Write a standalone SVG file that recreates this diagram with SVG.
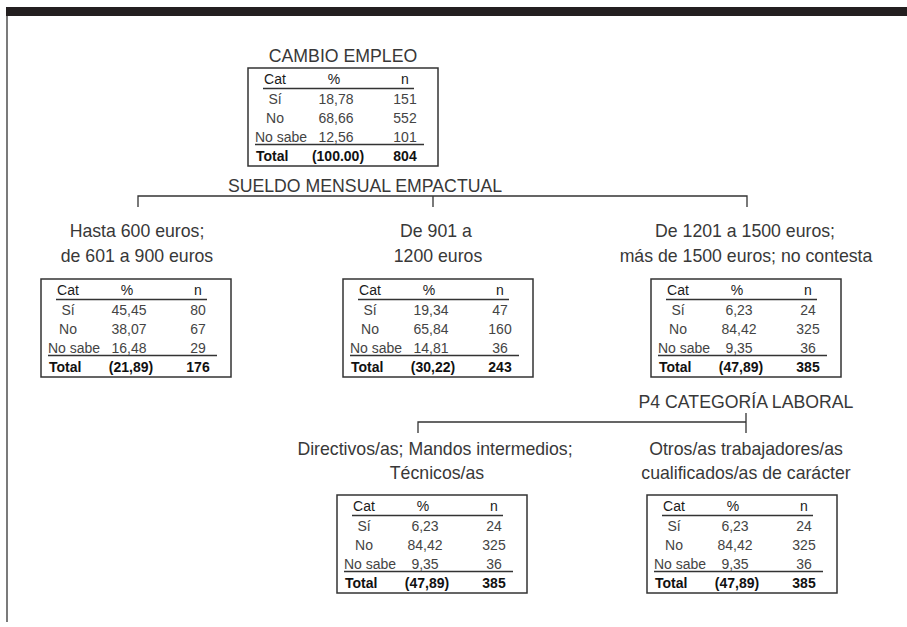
<svg xmlns="http://www.w3.org/2000/svg" width="907" height="627" viewBox="0 0 907 627">
<style>
.lbl{font-family:"Liberation Sans",Arial,sans-serif;font-size:17.7px;fill:#383838;text-anchor:middle}
.t{font-family:"Liberation Sans",Arial,sans-serif;font-size:14px;fill:#444;text-anchor:middle}
.h{fill:#1a1a1a}
.b{font-weight:bold;fill:#111}
.s{text-anchor:start}
.box{fill:#fff;stroke:#333;stroke-width:1.5}
.rl{stroke:#333;stroke-width:1.3;fill:none}
.con{stroke:#333;stroke-width:1.3;fill:none}
</style>
<defs>
<g id="grid">
<rect class="box" x="0" y="0" width="190" height="98"/>
<line class="rl" x1="15" y1="20.5" x2="166" y2="20.5"/>
<line class="rl" x1="7" y1="76.5" x2="176" y2="76.5"/>
</g>
</defs>
<rect x="6" y="7" width="901" height="9" fill="#231f20"/>
<line x1="7" y1="16" x2="7" y2="622" stroke="#333" stroke-width="1.3"/>

<g id="connectors">
<path class="con" d="M138 207V196H747V207M433 196V207"/>
<path class="con" d="M418 433V422H746M746 413V433"/>
</g>

<g id="cambio">
<text class="lbl" x="343" y="62">CAMBIO EMPLEO</text>
<g transform="translate(248,68)">
<use href="#grid"/>
<text class="t h" x="27" y="15.5">Cat</text><text class="t h" x="86" y="15.5">%</text><text class="t h" x="157" y="15.5">n</text>
<text class="t" x="27" y="35.5">Sí</text><text class="t" x="88" y="35.5">18,78</text><text class="t" x="157" y="35.5">151</text>
<text class="t" x="27" y="54.5">No</text><text class="t" x="88" y="54.5">68,66</text><text class="t" x="157" y="54.5">552</text>
<text class="t s" x="7" y="73.5">No sabe</text><text class="t" x="88" y="73.5">12,56</text><text class="t" x="157" y="73.5">101</text>
<text class="t b s" x="8" y="93">Total</text><text class="t b" x="90" y="93">(100.00)</text><text class="t b" x="157" y="93">804</text>
</g>
</g>

<g id="sueldo">
<text class="lbl" x="365" y="192">SUELDO MENSUAL EMPACTUAL</text>
</g>

<g id="n1">
<text class="lbl" x="137" y="237">Hasta 600 euros;</text>
<text class="lbl" x="137" y="262">de 601 a 900 euros</text>
<g transform="translate(41,279)">
<use href="#grid"/>
<text class="t h" x="27" y="15.5">Cat</text><text class="t h" x="86" y="15.5">%</text><text class="t h" x="157" y="15.5">n</text>
<text class="t" x="27" y="35.5">Sí</text><text class="t" x="88" y="35.5">45,45</text><text class="t" x="157" y="35.5">80</text>
<text class="t" x="27" y="54.5">No</text><text class="t" x="88" y="54.5">38,07</text><text class="t" x="157" y="54.5">67</text>
<text class="t s" x="7" y="73.5">No sabe</text><text class="t" x="88" y="73.5">16,48</text><text class="t" x="157" y="73.5">29</text>
<text class="t b s" x="8" y="93">Total</text><text class="t b" x="90" y="93">(21,89)</text><text class="t b" x="157" y="93">176</text>
</g>
</g>

<g id="n2">
<text class="lbl" x="436" y="237">De 901 a</text>
<text class="lbl" x="438" y="262">1200 euros</text>
<g transform="translate(343,279)">
<use href="#grid"/>
<text class="t h" x="27" y="15.5">Cat</text><text class="t h" x="86" y="15.5">%</text><text class="t h" x="157" y="15.5">n</text>
<text class="t" x="27" y="35.5">Sí</text><text class="t" x="88" y="35.5">19,34</text><text class="t" x="157" y="35.5">47</text>
<text class="t" x="27" y="54.5">No</text><text class="t" x="88" y="54.5">65,84</text><text class="t" x="157" y="54.5">160</text>
<text class="t s" x="7" y="73.5">No sabe</text><text class="t" x="88" y="73.5">14,81</text><text class="t" x="157" y="73.5">36</text>
<text class="t b s" x="8" y="93">Total</text><text class="t b" x="90" y="93">(30,22)</text><text class="t b" x="157" y="93">243</text>
</g>
</g>

<g id="n3">
<text class="lbl" x="745" y="237">De 1201 a 1500 euros;</text>
<text class="lbl" x="746" y="262">más de 1500 euros; no contesta</text>
<g transform="translate(651,279)">
<use href="#grid"/>
<text class="t h" x="27" y="15.5">Cat</text><text class="t h" x="86" y="15.5">%</text><text class="t h" x="157" y="15.5">n</text>
<text class="t" x="27" y="35.5">Sí</text><text class="t" x="88" y="35.5">6,23</text><text class="t" x="157" y="35.5">24</text>
<text class="t" x="27" y="54.5">No</text><text class="t" x="88" y="54.5">84,42</text><text class="t" x="157" y="54.5">325</text>
<text class="t s" x="7" y="73.5">No sabe</text><text class="t" x="88" y="73.5">9,35</text><text class="t" x="157" y="73.5">36</text>
<text class="t b s" x="8" y="93">Total</text><text class="t b" x="90" y="93">(47,89)</text><text class="t b" x="157" y="93">385</text>
</g>
</g>

<g id="p4">
<text class="lbl" x="746" y="408">P4 CATEGORÍA LABORAL</text>
</g>

<g id="n4">
<text class="lbl" x="435" y="455">Directivos/as; Mandos intermedios;</text>
<text class="lbl" x="437" y="479">Técnicos/as</text>
<g transform="translate(337,495)">
<use href="#grid"/>
<text class="t h" x="27" y="15.5">Cat</text><text class="t h" x="86" y="15.5">%</text><text class="t h" x="157" y="15.5">n</text>
<text class="t" x="27" y="35.5">Sí</text><text class="t" x="88" y="35.5">6,23</text><text class="t" x="157" y="35.5">24</text>
<text class="t" x="27" y="54.5">No</text><text class="t" x="88" y="54.5">84,42</text><text class="t" x="157" y="54.5">325</text>
<text class="t s" x="7" y="73.5">No sabe</text><text class="t" x="88" y="73.5">9,35</text><text class="t" x="157" y="73.5">36</text>
<text class="t b s" x="8" y="93">Total</text><text class="t b" x="90" y="93">(47,89)</text><text class="t b" x="157" y="93">385</text>
</g>
</g>

<g id="n5">
<text class="lbl" x="746" y="455">Otros/as trabajadores/as</text>
<text class="lbl" x="746" y="479">cualificados/as de carácter</text>
<g transform="translate(647,495)">
<use href="#grid"/>
<text class="t h" x="27" y="15.5">Cat</text><text class="t h" x="86" y="15.5">%</text><text class="t h" x="157" y="15.5">n</text>
<text class="t" x="27" y="35.5">Sí</text><text class="t" x="88" y="35.5">6,23</text><text class="t" x="157" y="35.5">24</text>
<text class="t" x="27" y="54.5">No</text><text class="t" x="88" y="54.5">84,42</text><text class="t" x="157" y="54.5">325</text>
<text class="t s" x="7" y="73.5">No sabe</text><text class="t" x="88" y="73.5">9,35</text><text class="t" x="157" y="73.5">36</text>
<text class="t b s" x="8" y="93">Total</text><text class="t b" x="90" y="93">(47,89)</text><text class="t b" x="157" y="93">385</text>
</g>
</g>
</svg>
